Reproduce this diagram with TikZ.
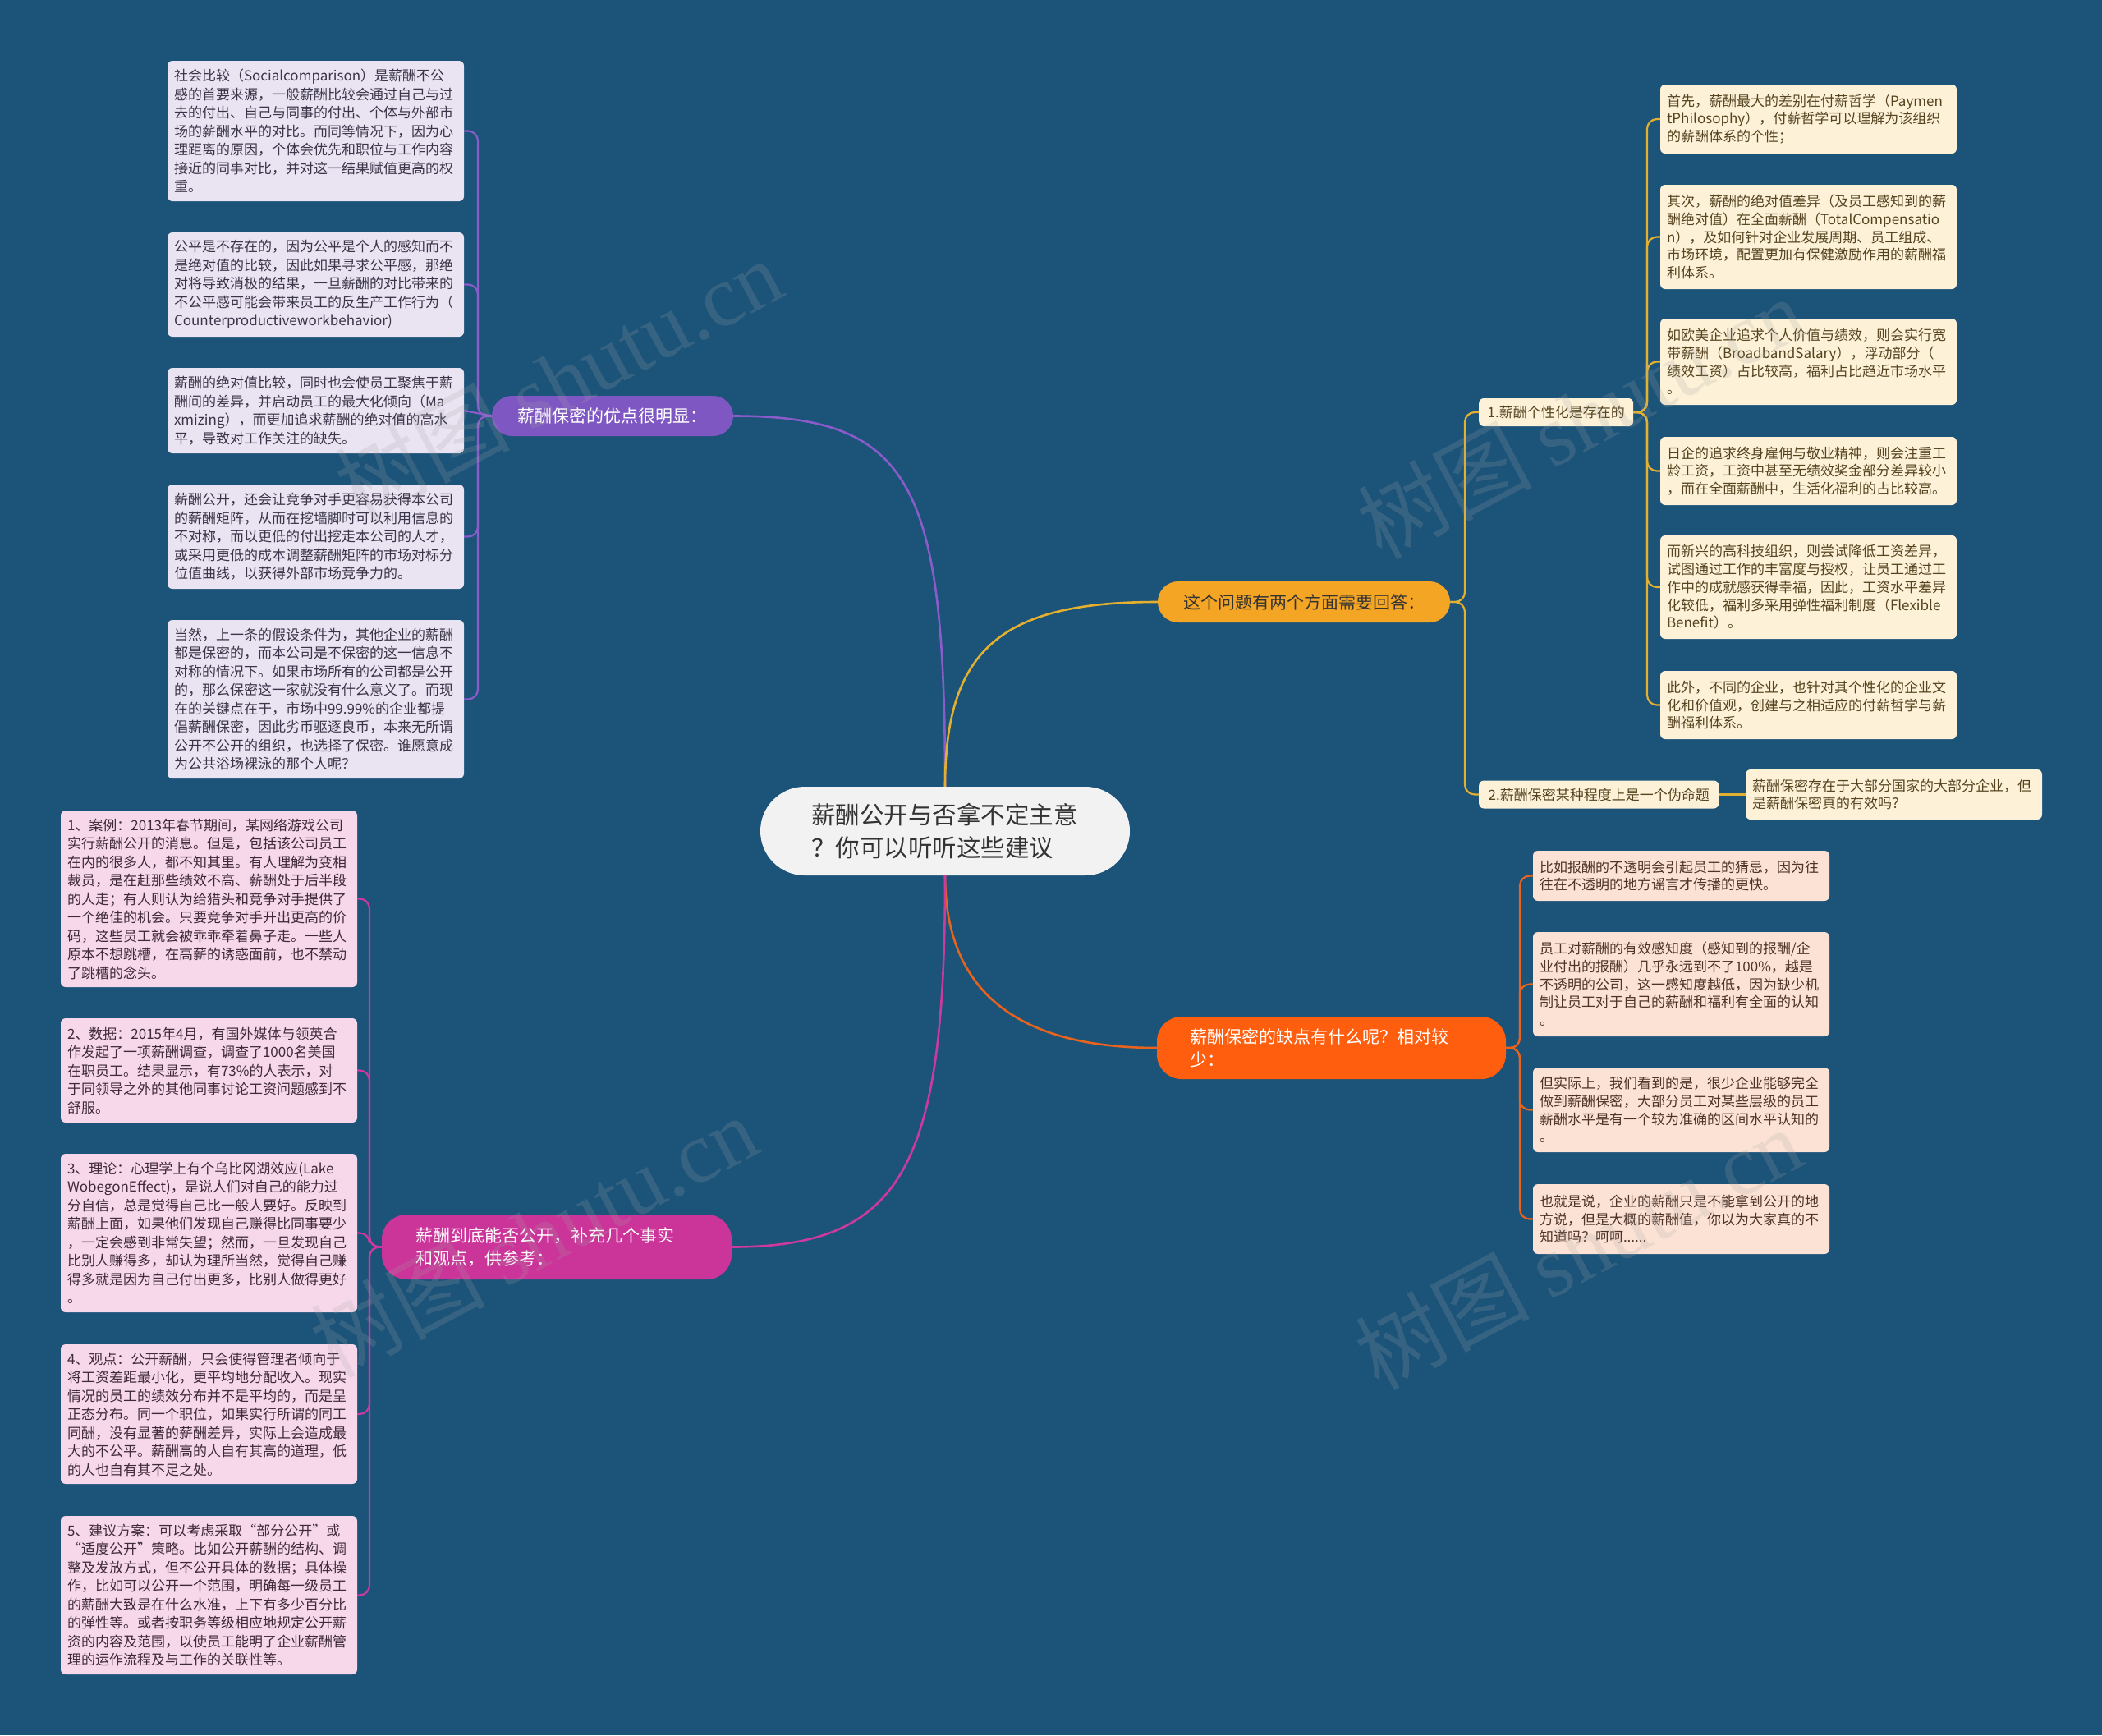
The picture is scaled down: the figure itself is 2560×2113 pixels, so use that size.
\documentclass[tikz,border=0pt]{standalone}
\usepackage{fontspec}
\newfontfamily\cjk{Noto Sans CJK SC}
\newfontfamily\wmserif{Liberation Serif}
\definecolor{bg}{HTML}{1B5379}
\definecolor{pmain}{HTML}{7E57C2}
\definecolor{pline}{HTML}{8A5CC9}
\definecolor{ymain}{HTML}{F5A524}
\definecolor{yline}{HTML}{E3B030}
\definecolor{omain}{HTML}{FF5E0F}
\definecolor{oline}{HTML}{E8641E}
\definecolor{mmain}{HTML}{CB3499}
\definecolor{mline}{HTML}{CC3A9E}
\definecolor{pleaf}{HTML}{E9E3F2}
\definecolor{ptext}{HTML}{3A3548}
\definecolor{mleaf}{HTML}{F6D8EA}
\definecolor{mtext}{HTML}{3F2A38}
\definecolor{yleaf}{HTML}{FDF1D8}
\definecolor{ytext}{HTML}{55441F}
\definecolor{oleaf}{HTML}{FCE2D5}
\definecolor{otext}{HTML}{4F3328}
\definecolor{cfill}{HTML}{F2F2F2}
\definecolor{ctext}{HTML}{333333}
\tikzset{
  leafbase/.style={rectangle, rounded corners=6pt, inner xsep=8pt, inner ysep=0pt,
    text width=345pt, align=left},
  pleafbox/.style={leafbase, fill=pleaf, text=ptext, font=\cjk\fontsize{17}{22.5}\selectfont},
  mleafbox/.style={leafbase, fill=mleaf, text=mtext, font=\cjk\fontsize{17}{22.5}\selectfont},
  yleafbox/.style={leafbase, fill=yleaf, text=ytext, font=\cjk\fontsize{17}{21.7}\selectfont},
  oleafbox/.style={leafbase, fill=oleaf, text=otext, font=\cjk\fontsize{17}{21.7}\selectfont},
  subbox/.style={rectangle, rounded corners=6pt, inner xsep=9pt, inner ysep=0pt,
    fill=yleaf, text=ytext, font=\cjk\fontsize{17}{21.7}\selectfont, minimum height=34pt, anchor=west},
  mainbox/.style={rectangle, inner ysep=0pt, font=\cjk\fontsize{21}{28}\selectfont},
  mainline/.style={line width=2.6pt},
  subline/.style={line width=2.2pt, rounded corners=12pt},
  wm/.style={rotate=28, opacity=0.2, text=gray!70, font=\cjk\fontsize{106}{106}\selectfont},
}
\begin{document}
\begin{tikzpicture}[x=1pt,y=-1pt]
\fill[bg] (0,0) rectangle (2560,2113);
\useasboundingbox (0,0) rectangle (2560,2113);

% ---------- centre ----------
\node[rectangle, rounded corners=54pt, fill=cfill, text=ctext, minimum width=450pt, minimum height=108pt,
  inner xsep=0pt, text width=326pt, align=left, font=\cjk\fontsize{29.5}{40}\selectfont]
  (c) at (1151,1012) {薪酬公开与否拿不定主意\\？你可以听听这些建议};

% ---------- main branches ----------
\node[mainbox, fill=pmain, text=white, rounded corners=24.5pt, minimum width=294pt, minimum height=49pt]
  (pb) at (746,506.5) {薪酬保密的优点很明显：};
\node[mainbox, fill=ymain, text=ctext, rounded corners=25pt, minimum width=356pt, minimum height=50pt]
  (yb) at (1588,733) {这个问题有两个方面需要回答：};
\node[mainbox, fill=omain, text=white, rounded corners=30pt, inner xsep=40pt, text width=345pt, align=left,
  minimum height=76pt] (ob) at (1621.5,1276) {薪酬保密的缺点有什么呢？相对较\\少：};
\node[mainbox, fill=mmain, text=white, rounded corners=30pt, inner xsep=41pt, text width=344pt, align=left,
  minimum height=79pt] (mb) at (678,1518.5) {薪酬到底能否公开，补充几个事实\\和观点，供参考：};

% ---------- purple leaves ----------
\node[pleafbox, minimum height=171pt] (pa) at (384.5,159.5) {社会比较（Socialcomparison）是薪酬不公\\感的首要来源，一般薪酬比较会通过自己与过\\去的付出、自己与同事的付出、个体与外部市\\场的薪酬水平的对比。而同等情况下，因为心\\理距离的原因，个体会优先和职位与工作内容\\接近的同事对比，并对这一结果赋值更高的权\\重。};
\node[pleafbox, minimum height=127pt] (pbb) at (384.5,346.5) {公平是不存在的，因为公平是个人的感知而不\\是绝对值的比较，因此如果寻求公平感，那绝\\对将导致消极的结果，一旦薪酬的对比带来的\\不公平感可能会带来员工的反生产工作行为（\\Counterproductiveworkbehavior)};
\node[pleafbox, minimum height=104pt] (pc) at (384.5,500) {薪酬的绝对值比较，同时也会使员工聚焦于薪\\酬间的差异，并启动员工的最大化倾向（Ma\\xmizing），而更加追求薪酬的绝对值的高水\\平，导致对工作关注的缺失。};
\node[pleafbox, minimum height=127pt] (pd) at (384.5,653.5) {薪酬公开，还会让竞争对手更容易获得本公司\\的薪酬矩阵，从而在挖墙脚时可以利用信息的\\不对称，而以更低的付出挖走本公司的人才，\\或采用更低的成本调整薪酬矩阵的市场对标分\\位值曲线，以获得外部市场竞争力的。};
\node[pleafbox, minimum height=193pt] (pe) at (384.5,851.5) {当然，上一条的假设条件为，其他企业的薪酬\\都是保密的，而本公司是不保密的这一信息不\\对称的情况下。如果市场所有的公司都是公开\\的，那么保密这一家就没有什么意义了。而现\\在的关键点在于，市场中99.99\%的企业都提\\倡薪酬保密，因此劣币驱逐良币，本来无所谓\\公开不公开的组织，也选择了保密。谁愿意成\\为公共浴场裸泳的那个人呢？};

% ---------- magenta leaves ----------
\node[mleafbox, minimum height=215pt] (ma) at (254.5,1094.5) {1、案例：2013年春节期间，某网络游戏公司\\实行薪酬公开的消息。但是，包括该公司员工\\在内的很多人，都不知其里。有人理解为变相\\裁员，是在赶那些绩效不高、薪酬处于后半段\\的人走；有人则认为给猎头和竞争对手提供了\\一个绝佳的机会。只要竞争对手开出更高的价\\码，这些员工就会被乖乖牵着鼻子走。一些人\\原本不想跳槽，在高薪的诱惑面前，也不禁动\\了跳槽的念头。};
\node[mleafbox, minimum height=127pt] (mbb) at (254.5,1303.5) {2、数据：2015年4月，有国外媒体与领英合\\作发起了一项薪酬调查，调查了1000名美国\\在职员工。结果显示，有73\%的人表示，对\\于同领导之外的其他同事讨论工资问题感到不\\舒服。};
\node[mleafbox, minimum height=193pt] (mc) at (254.5,1501.5) {3、理论：心理学上有个乌比冈湖效应(Lake\\WobegonEffect)，是说人们对自己的能力过\\分自信，总是觉得自己比一般人要好。反映到\\薪酬上面，如果他们发现自己赚得比同事要少\\，一定会感到非常失望；然而，一旦发现自己\\比别人赚得多，却认为理所当然，觉得自己赚\\得多就是因为自己付出更多，比别人做得更好\\。};
\node[mleafbox, minimum height=170pt] (md) at (254.5,1722) {4、观点：公开薪酬，只会使得管理者倾向于\\将工资差距最小化，更平均地分配收入。现实\\情况的员工的绩效分布并不是平均的，而是呈\\正态分布。同一个职位，如果实行所谓的同工\\同酬，没有显著的薪酬差异，实际上会造成最\\大的不公平。薪酬高的人自有其高的道理，低\\的人也自有其不足之处。};
\node[mleafbox, minimum height=193pt] (me) at (254.5,1942.5) {5、建议方案：可以考虑采取“部分公开”或\\“适度公开”策略。比如公开薪酬的结构、调\\整及发放方式，但不公开具体的数据；具体操\\作，比如可以公开一个范围，明确每一级员工\\的薪酬大致是在什么水准，上下有多少百分比\\的弹性等。或者按职务等级相应地规定公开薪\\资的内容及范围，以使员工能明了企业薪酬管\\理的运作流程及与工作的关联性等。};

% ---------- yellow sub-branches ----------
\node[subbox, minimum width=188pt] (y1) at (1801,502) {1.薪酬个性化是存在的};
\node[subbox, minimum width=292pt] (y2) at (1801,967.5) {2.薪酬保密某种程度上是一个伪命题};

\node[yleafbox, minimum height=84pt] (ya) at (2202.5,145) {首先，薪酬最大的差别在付薪哲学（Paymen\\tPhilosophy），付薪哲学可以理解为该组织\\的薪酬体系的个性；};
\node[yleafbox, minimum height=127pt] (yb2) at (2202.5,288.5) {其次，薪酬的绝对值差异（及员工感知到的薪\\酬绝对值）在全面薪酬（TotalCompensatio\\n），及如何针对企业发展周期、员工组成、\\市场环境，配置更加有保健激励作用的薪酬福\\利体系。};
\node[yleafbox, minimum height=105pt] (yc) at (2202.5,440.5) {如欧美企业追求个人价值与绩效，则会实行宽\\带薪酬（BroadbandSalary），浮动部分（\\绩效工资）占比较高，福利占比趋近市场水平\\。};
\node[yleafbox, minimum height=83pt] (yd) at (2202.5,573.5) {日企的追求终身雇佣与敬业精神，则会注重工\\龄工资，工资中甚至无绩效奖金部分差异较小\\，而在全面薪酬中，生活化福利的占比较高。};
\node[yleafbox, minimum height=126pt] (ye) at (2202.5,715) {而新兴的高科技组织，则尝试降低工资差异，\\试图通过工作的丰富度与授权，让员工通过工\\作中的成就感获得幸福，因此，工资水平差异\\化较低，福利多采用弹性福利制度（Flexible\\Benefit）。};
\node[yleafbox, minimum height=83pt] (yf) at (2202.5,858.5) {此外，不同的企业，也针对其个性化的企业文\\化和价值观，创建与之相适应的付薪哲学与薪\\酬福利体系。};
\node[yleafbox, minimum height=61pt] (yg) at (2306.5,967.5) {薪酬保密存在于大部分国家的大部分企业，但\\是薪酬保密真的有效吗？};

% ---------- orange leaves ----------
\node[oleafbox, minimum height=61pt] (oa) at (2047.5,1066.5) {比如报酬的不透明会引起员工的猜忌，因为往\\往在不透明的地方谣言才传播的更快。};
\node[oleafbox, minimum height=127pt] (obb) at (2047.5,1198.5) {员工对薪酬的有效感知度（感知到的报酬/企\\业付出的报酬）几乎永远到不了100\%，越是\\不透明的公司，这一感知度越低，因为缺少机\\制让员工对于自己的薪酬和福利有全面的认知\\。};
\node[oleafbox, minimum height=103pt] (oc) at (2047.5,1351.5) {但实际上，我们看到的是，很少企业能够完全\\做到薪酬保密，大部分员工对某些层级的员工\\薪酬水平是有一个较为准确的区间水平认知的\\。};
\node[oleafbox, minimum height=85pt] (od) at (2047.5,1484.5) {也就是说，企业的薪酬只是不能拿到公开的地\\方说，但是大概的薪酬值，你以为大家真的不\\知道吗？呵呵......};

% ---------- trunk coordinates ----------
\coordinate (pt) at (582,506.5);
\coordinate (mt) at (450,1518.5);
\coordinate (yt) at (1784,733);
\coordinate (y1t) at (2006,502);
\coordinate (ot) at (1851,1276);

% ---------- main connectors ----------
\draw[mainline, pline] (c.north) .. controls (1151,588) and (1110,506.5) .. (pb.east);
\draw[mainline, yline] (c.north) .. controls (1151,790) and (1220,733) .. (yb.west);
\draw[mainline, oline] (c.south) .. controls (1151,1200) and (1230,1276) .. (ob.west);
\draw[mainline, mline] (c.south) .. controls (1151,1420) and (1100,1518.5) .. (mb.east);

% ---------- purple connectors ----------
\foreach \n in {pa,pbb,pd,pe}
  \draw[subline, pline] (pb.west) -- (pt) -- (pt |- \n.east) -- (\n.east);
\draw[subline, pline] (pb.west) -- (pc.east);

% ---------- magenta connectors ----------
\foreach \n in {ma,mbb,mc,md,me}
  \draw[subline, mline] (mb.west) -- (mt) -- (mt |- \n.east) -- (\n.east);

% ---------- yellow connectors ----------
\foreach \n in {y1,y2}
  \draw[subline, yline] (yb.east) -- (yt) -- (yt |- \n.west) -- (\n.west);
\foreach \n in {ya,yb2,yc,yd,ye,yf}
  \draw[subline, yline] (y1.east) -- (y1t) -- (y1t |- \n.west) -- (\n.west);
\draw[subline, yline] (y2.east) -- (yg.west);

% ---------- orange connectors ----------
\foreach \n in {oa,obb,oc,od}
  \draw[subline, oline] (ob.east) -- (ot) -- (ot |- \n.west) -- (\n.west);

% ---------- watermarks ----------
\node[wm] (wm1) at (680,462) {树图 {\wmserif shutu.cn}};
\node[wm] (wm2) at (650,1505) {树图 {\wmserif shutu.cn}};
\node[wm] (wm3) at (1925,508) {树图 {\wmserif shutu.cn}};
\node[wm] (wm4) at (1922,1520) {树图 {\wmserif shutu.cn}};
\end{tikzpicture}
\end{document}
